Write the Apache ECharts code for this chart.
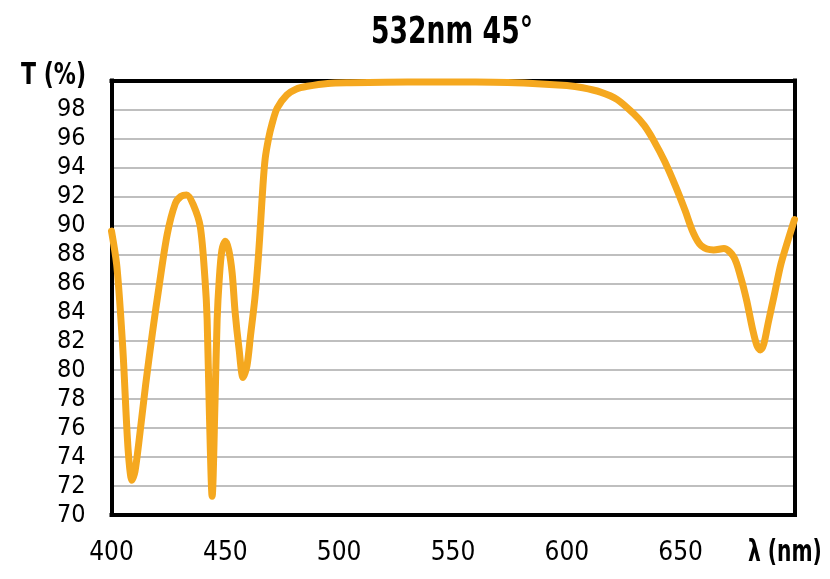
<!DOCTYPE html>
<html><head><meta charset="utf-8">
<script src="https://cdn.jsdelivr.net/npm/echarts@6/dist/echarts.min.js"></script>
<style>html,body{margin:0;padding:0;background:#fff}#c{width:830px;height:579px}</style>
</head><body><div id="c"></div>
<script>
var titleText = '532nm 45°';
var yAxisTitle = 'T (%)';
var xAxisTitle = 'λ (nm)';
var wavelength = [400,402.4,405,407.3,409,410.3,412,415,418,421,424.5,428,430.5,433,436,439,441.1,442,443,444.2,445.5,446.4,447.3,448.5,450,451.5,453,454.3,456,457.8,459.5,461,463,464.5,465.5,466.5,467.5,469,470.5,472.8,477,481,486,495,505,530,560,585,600,607,614.8,622,629.4,634,638,643,648,652,655.5,659,664.5,669,673.4,676.4,679,681.5,683.5,685,686.5,688.5,691,694,697,700];
var transmission = [89.6,87.1,81.4,74.5,72.4,73.0,75.0,79.0,82.6,85.9,89.4,91.5,92.0,92.1,91.4,89.9,86.2,83.5,77.0,71.3,78.0,83.5,86.2,88.3,88.9,88.3,86.7,84.0,81.5,79.5,80.3,82.3,85.0,87.8,90.2,92.7,94.6,96.0,97.0,98.1,99.0,99.4,99.6,99.8,99.85,99.9,99.9,99.8,99.65,99.5,99.2,98.7,97.7,96.9,95.9,94.4,92.6,91.0,89.5,88.6,88.3,88.4,87.8,86.4,84.8,82.9,81.7,81.4,81.8,83.3,85.1,87.3,88.9,90.4];
var yTicks = [70,72,74,76,78,80,82,84,86,88,90,92,94,96,98,100];
var xTicks = [400,450,500,550,600,650,700];

var pts = wavelength.map(function(w,i){return [w, transmission[i]];});
var FONT = '"DejaVu Sans Condensed","Liberation Sans Narrow",sans-serif';
var frame = {show:true,onZero:false,lineStyle:{color:'#000',width:4,cap:'square'}};
var chart = echarts.init(document.getElementById('c'), null, {renderer:'canvas'});
chart.setOption({
  animation:false,
  backgroundColor:'#fff',
  grid:{left:111.5,right:35.5,top:80.5,bottom:64,show:false},
  xAxis:[{type:'value',min:400,max:700,interval:50,position:'bottom',
    axisLine:frame,axisTick:{show:false},splitLine:{show:false},
    axisLabel:{margin:25,fontFamily:FONT,fontSize:26,color:'#000',
      formatter:function(v){return (v===700)?'':String(v);}}},
    {type:'value',min:400,max:700,interval:50,position:'top',
    axisLine:frame,axisTick:{show:false},splitLine:{show:false},axisLabel:{show:false}}],
  yAxis:[{type:'value',min:70,max:100,interval:2,position:'left',
    axisLine:frame,axisTick:{show:false},
    splitLine:{show:true,lineStyle:{color:'#aaaaaa',width:1.5}},
    axisLabel:{margin:26,fontFamily:FONT,fontSize:25,color:'#000',
      formatter:function(v){return (v===100)?'':String(v);}}},
    {type:'value',min:70,max:100,interval:2,position:'right',
    axisLine:frame,axisTick:{show:false},splitLine:{show:false},axisLabel:{show:false}}],
  graphic:[
    {type:'text',x:452,y:15,scaleX:0.8,style:{text:titleText,font:'bold 37px '+FONT,fill:'#000',textAlign:'center',textVerticalAlign:'top'}},
    {type:'text',x:86,y:60,scaleX:0.79,style:{text:yAxisTitle,font:'bold 31px '+FONT,fill:'#000',textAlign:'right',textVerticalAlign:'top'}},
    {type:'text',x:748,y:538,scaleX:0.75,style:{text:xAxisTitle,font:'bold 30px '+FONT,fill:'#000',textAlign:'left',textVerticalAlign:'top'}}
  ],
  series:[{type:'line',xAxisIndex:0,yAxisIndex:0,data:pts,showSymbol:false,smooth:0.3,
    lineStyle:{color:'#F5A81F',width:7,cap:'round',join:'round'},z:1}]
});
</script></body></html>
